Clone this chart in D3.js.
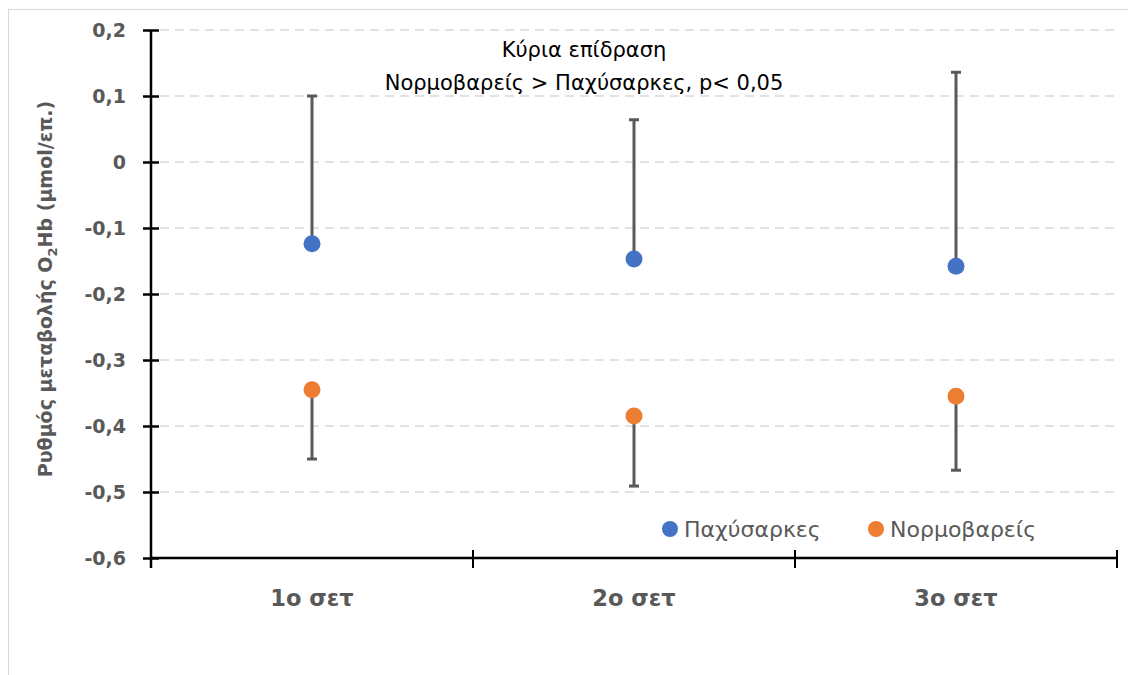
<!DOCTYPE html>
<html>
<head>
<meta charset="utf-8">
<script src="https://cdn.jsdelivr.net/npm/d3@7"></script>
<style>
  body { margin: 0; background: #fff; }
  svg { display: block; font-family: "DejaVu Sans", sans-serif; }
</style>
</head>
<body>
<div id="chart"></div>
<script>
// data
var categories = ["1ο σετ", "2ο σετ", "3ο σετ"];
var obeseMean = [-0.124, -0.147, -0.158];   // Παχύσαρκες
var obeseErr = [0.224, 0.211, 0.294];       // upper error only
var normalMean = [-0.345, -0.385, -0.355];  // Νορμοβαρείς
var normalErr = [0.105, 0.106, 0.112];      // lower error only
var yTicks = [0.2, 0.1, 0, -0.1, -0.2, -0.3, -0.4, -0.5, -0.6];

var W = 1128, H = 675;
var plotLeft = 151, plotRight = 1117, plotTop = 30, plotBottom = 558;

var svg = d3.select("#chart").append("svg")
    .attr("width", W)
    .attr("height", H);

// faint chart border
svg.append("rect")
    .attr("x", 8.5).attr("y", 9.5)
    .attr("width", W + 10).attr("height", H + 10)
    .attr("fill", "none")
    .attr("stroke", "#d9d9d9")
    .attr("stroke-width", 1);

var x = d3.scaleBand()
    .domain(categories)
    .range([plotLeft, plotRight])
    .padding(0);

var y = d3.scaleLinear()
    .domain([-0.6, 0.2])
    .range([plotBottom, plotTop]);

var loc = d3.formatLocale({decimal: ",", thousands: ".", grouping: [3], currency: ["", ""], minus: "-"});
var fmt = loc.format(".1~f");

// gridlines
svg.append("g")
  .selectAll("line")
  .data(yTicks.filter(function(d) { return d > -0.6; }))
  .enter()
  .append("line")
    .attr("x1", plotLeft + 9)
    .attr("x2", plotRight)
    .attr("y1", function(d) { return y(d); })
    .attr("y2", function(d) { return y(d); })
    .attr("stroke", "#d9d9d9")
    .attr("stroke-width", 1.5)
    .attr("stroke-dasharray", "9,6");

// y axis
var yAxis = svg.append("g")
    .attr("transform", "translate(" + plotLeft + ",0)")
    .call(d3.axisLeft(y).tickValues(yTicks).tickFormat(fmt).tickSize(8).tickPadding(17));
yAxis.select(".domain")
    .attr("d", "M0," + plotTop + "V" + (plotBottom + 10))
    .attr("stroke", "#000")
    .attr("stroke-width", 2.5);
yAxis.selectAll(".tick line")
    .attr("x1", -8).attr("x2", 8)
    .attr("stroke", "#000")
    .attr("stroke-width", 2.5);
yAxis.selectAll(".tick text")
    .attr("fill", "#595959")
    .attr("dy", "0.36em")
    .style("font-size", "19px")
    .style("font-weight", "bold")
    .style("font-family", "'DejaVu Sans', sans-serif");

// x axis
svg.append("line")
    .attr("x1", plotLeft).attr("x2", plotRight)
    .attr("y1", plotBottom).attr("y2", plotBottom)
    .attr("stroke", "#000")
    .attr("stroke-width", 2.5);

var edges = categories.map(function(c) { return x(c); }).concat([plotRight]);
svg.append("g")
  .selectAll("line")
  .data(edges)
  .enter()
  .append("line")
    .attr("x1", function(d) { return d; })
    .attr("x2", function(d) { return d; })
    .attr("y1", plotBottom - 8)
    .attr("y2", plotBottom + 10)
    .attr("stroke", "#000")
    .attr("stroke-width", 2);

svg.append("g")
  .selectAll("text")
  .data(categories)
  .enter()
  .append("text")
    .attr("x", function(d) { return x(d) + x.bandwidth() / 2; })
    .attr("y", 606)
    .attr("text-anchor", "middle")
    .attr("fill", "#595959")
    .style("font-size", "22.5px")
    .style("font-weight", "bold")
    .text(function(d) { return d; });

// y axis title
var yt = svg.append("text")
    .attr("transform", "translate(52," + 289 + ") rotate(-90)")
    .attr("text-anchor", "middle")
    .attr("fill", "#595959")
    .style("font-size", "19px")
    .style("font-weight", "bold");
yt.append("tspan").text("Ρυθμός μεταβολής O");
yt.append("tspan").attr("dy", 5).style("font-size", "13px").text("2");
yt.append("tspan").attr("dy", -5).text("Hb (μmol/επ.)");

// error bars
var obese = categories.map(function(c, i) { return {cat: c, mean: obeseMean[i], end: obeseMean[i] + obeseErr[i]}; });
var normal = categories.map(function(c, i) { return {cat: c, mean: normalMean[i], end: normalMean[i] - normalErr[i]}; });
var cx = function(d) { return x(d.cat) + x.bandwidth() / 2; };

var bars = svg.append("g");
[obese, normal].forEach(function(series) {
  bars.selectAll(null)
    .data(series)
    .enter()
    .append("line")
      .attr("x1", cx).attr("x2", cx)
      .attr("y1", function(d) { return y(d.mean); })
      .attr("y2", function(d) { return y(d.end); })
      .attr("stroke", "#595959")
      .attr("stroke-width", 3);
  bars.selectAll(null)
    .data(series)
    .enter()
    .append("line")
      .attr("x1", function(d) { return cx(d) - 5; })
      .attr("x2", function(d) { return cx(d) + 5; })
      .attr("y1", function(d) { return y(d.end); })
      .attr("y2", function(d) { return y(d.end); })
      .attr("stroke", "#595959")
      .attr("stroke-width", 3);
});

// points
svg.append("g")
  .selectAll("circle")
  .data(obese)
  .enter()
  .append("circle")
    .attr("cx", cx)
    .attr("cy", function(d) { return y(d.mean); })
    .attr("r", 8.5)
    .attr("fill", "#4472c4");
svg.append("g")
  .selectAll("circle")
  .data(normal)
  .enter()
  .append("circle")
    .attr("cx", cx)
    .attr("cy", function(d) { return y(d.mean); })
    .attr("r", 8.5)
    .attr("fill", "#ed7d31");

// annotation
svg.append("text")
    .attr("x", 584).attr("y", 57)
    .attr("text-anchor", "middle")
    .attr("fill", "#000")
    .style("font-size", "21px")
    .text("Κύρια επίδραση");
svg.append("text")
    .attr("x", 584).attr("y", 90)
    .attr("text-anchor", "middle")
    .attr("fill", "#000")
    .style("font-size", "21px")
    .text("Νορμοβαρείς > Παχύσαρκες, p< 0,05");

// legend
var legend = [
  {name: "Παχύσαρκες", color: "#4472c4", x: 670},
  {name: "Νορμοβαρείς", color: "#ed7d31", x: 876}
];
var lg = svg.append("g")
  .selectAll("g")
  .data(legend)
  .enter()
  .append("g")
    .attr("transform", function(d) { return "translate(" + d.x + ",529)"; });
lg.append("circle")
    .attr("r", 8)
    .attr("fill", function(d) { return d.color; });
lg.append("text")
    .attr("x", 14)
    .attr("y", 8)
    .attr("fill", "#595959")
    .style("font-size", "22px")
    .text(function(d) { return d.name; });
</script>
</body>
</html>
